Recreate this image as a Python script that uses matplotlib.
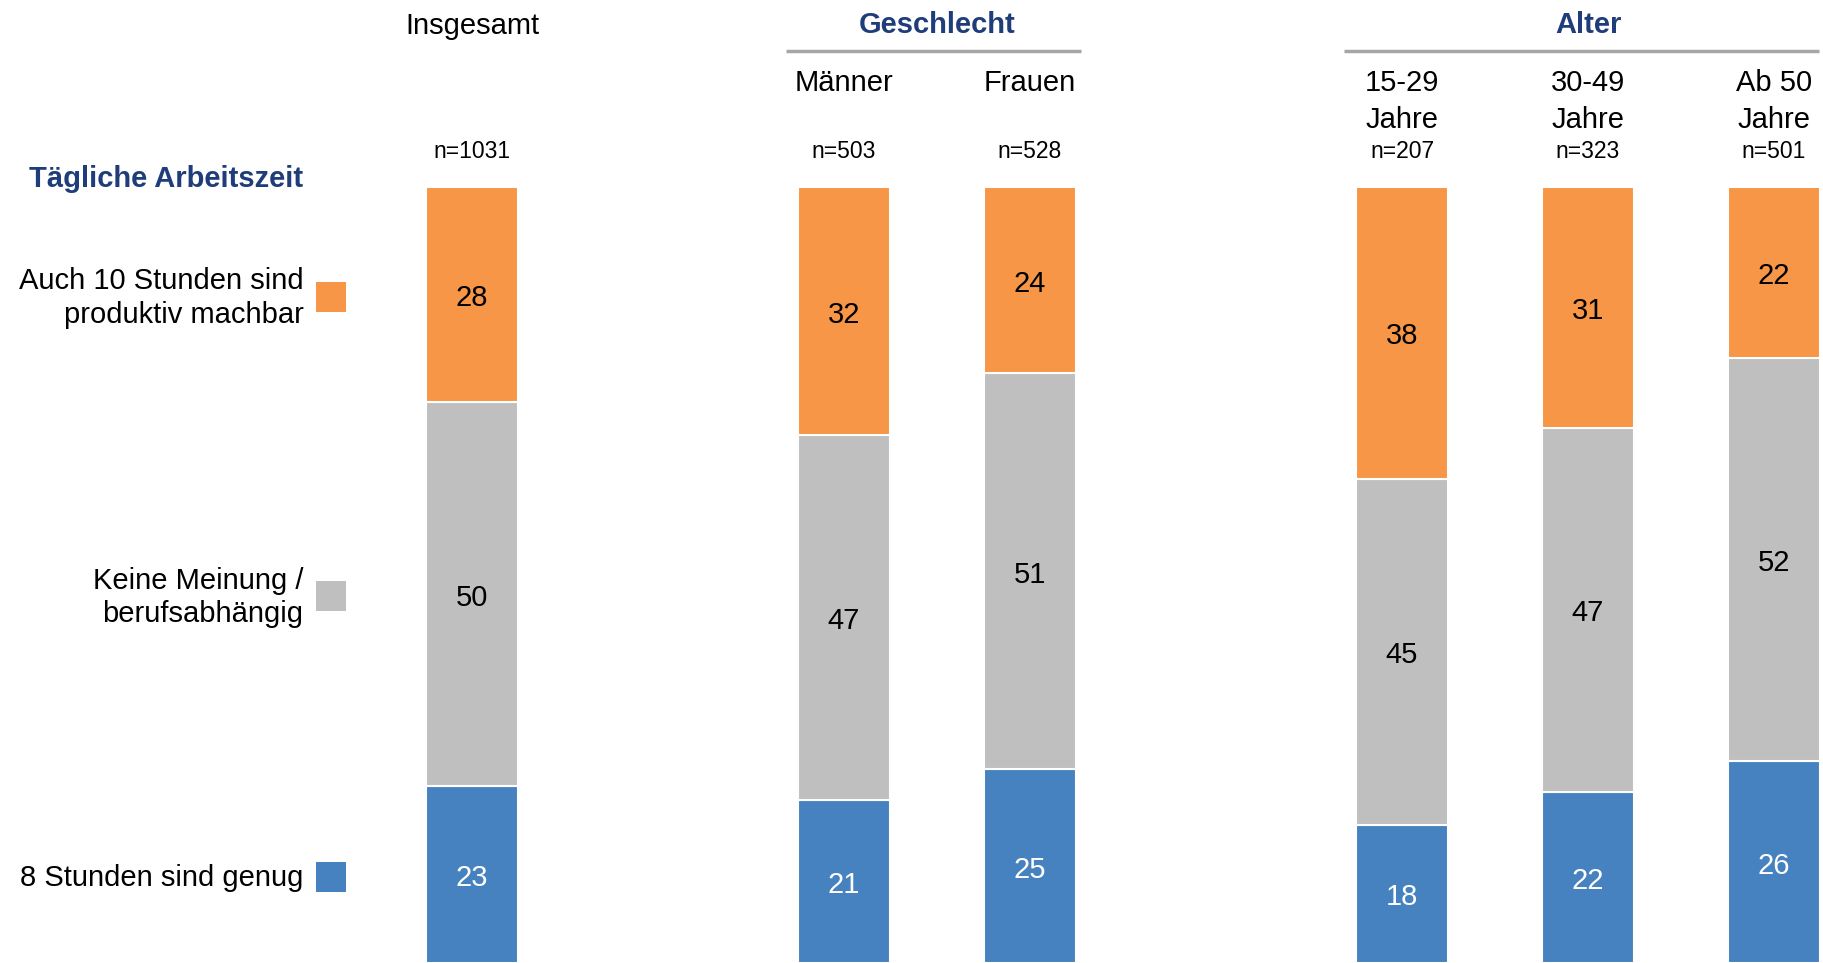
import matplotlib.pyplot as plt
import numpy as np

plt.rcParams['font.family'] = ['Liberation Sans', 'DejaVu Sans']

# data
columns = ["Insgesamt", "Männer", "Frauen", "15-29\nJahre", "30-49\nJahre", "Ab 50\nJahre"]
n_labels = ["n=1031", "n=503", "n=528", "n=207", "n=323", "n=501"]
positions = [0, 2, 3, 5, 6, 7]
groups = [("Geschlecht", 2, 3), ("Alter", 5, 7)]
categories = ["8 Stunden sind genug", "Keine Meinung /\nberufsabhängig", "Auch 10 Stunden sind\nproduktiv machbar"]
genug = [23, 21, 25, 18, 22, 26]
keine = [50, 47, 51, 45, 47, 52]
auch10 = [28, 32, 24, 38, 31, 22]
legend_title = "Tägliche Arbeitszeit"

colors = ["#4682C0", "#BFBFBF", "#F79646"]
text_colors = ["white", "black", "black"]
navy = "#1F3D7A"
fs = 21

W, H = 1823, 963
fig = plt.figure(figsize=(W / 100, H / 100), dpi=100)
ax = fig.add_axes([0, 0, 1, 1])
ax.axis("off")

# x: 1 unit = 186 px, x=0 at 472 px ; y: 0..1 maps 963..187 px
unit = 186.0
x0 = 472.0
ax.set_xlim(-x0 / unit, (W - x0) / unit)
ytop = 187.0
ax.set_ylim(0, H / (H - ytop))
dy = 3.5 / (H - ytop)  # small downward nudge for text


def ypx(p):
    return (H - p) / (H - ytop)


series = np.array([genug, keine, auch10], dtype=float)
shares = series / series.sum(axis=0)
bottom = np.zeros(len(positions))
for i in range(3):
    ax.bar(positions, shares[i], bottom=bottom, width=0.49, color=colors[i],
           edgecolor="white", linewidth=1.5)
    for j, x in enumerate(positions):
        ax.text(x, bottom[j] + shares[i][j] / 2 - dy, str(int(series[i][j])), ha="center",
                va="center", fontsize=fs, color=text_colors[i])
    bottom += shares[i]

# column headers
for x, lab, n in zip(positions, columns, n_labels):
    if x == 0:
        ax.text(x, ypx(26), lab, ha="center", va="center", fontsize=fs)
    else:
        for k, line in enumerate(lab.split("\n")):
            ax.text(x, ypx(83 + 37 * k), line, ha="center", va="center", fontsize=fs)
    ax.text(x, ypx(151), n, ha="center", va="center", fontsize=16.5)

for name, a, b in groups:
    ax.text((a + b) / 2, ypx(25), name, ha="center", va="center", fontsize=fs,
            fontweight="bold", color=navy)
    ax.plot([a - 0.3125, b + 0.275 if b == 3 else b + 0.24], [ypx(51), ypx(51)],
            color="#A6A6A6", linewidth=2.5, solid_capstyle="butt")

# legend on the left, aligned with the Insgesamt segments
lx = -0.906
ax.text(lx, ypx(179), legend_title, ha="right", va="center", fontsize=fs,
        fontweight="bold", color=navy)
cum = 0
for i in range(3):
    yc = cum + shares[i][0] / 2
    cum += shares[i][0]
    ax.text(lx, yc - dy, categories[i], ha="right", va="center", fontsize=fs,
            linespacing=1.25)
    ax.add_patch(plt.Rectangle((-0.8375, yc - 17 / (H - ytop)), 0.1625, 30 / (H - ytop),
                               color=colors[i], lw=0))

fig.savefig("out.png", dpi=100)
